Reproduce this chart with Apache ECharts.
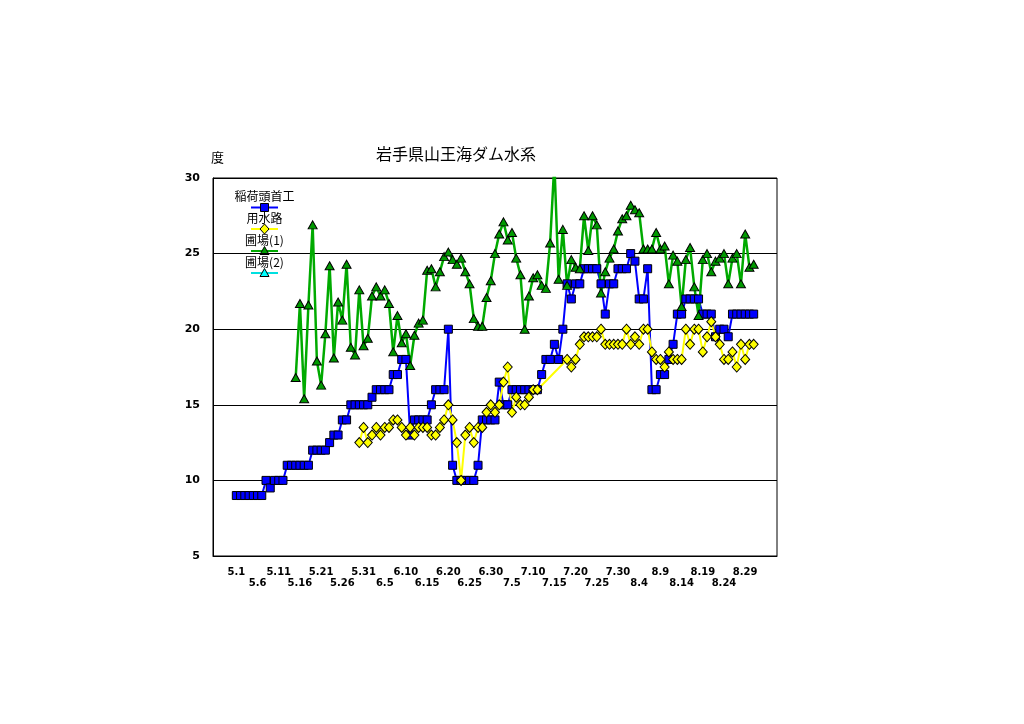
<!DOCTYPE html>
<html><head><meta charset="utf-8">
<script src="https://cdn.jsdelivr.net/npm/echarts@6/dist/echarts.min.js"></script>
<style>html,body{margin:0;padding:0;background:#fff}#c{width:1024px;height:724px}</style>
</head><body><div id="c"></div>
<script>
// date categories of the axis (month, first day, last day)
const monthSpans = [['4',26,30],['5',1,31],['6',1,30],['7',1,31],['8',1,31],['9',1,5]];
const categories = [];
for (const [m,a,b] of monthSpans) for (let d=a; d<=b; d++) categories.push(m + '.' + d);

const tickLabels = ['5.1','5.6','5.11','5.16','5.21','5.26','5.31','6.5','6.10','6.15','6.20','6.25','6.30',
  '7.5','7.10','7.15','7.20','7.25','7.30','8.4','8.9','8.14','8.19','8.24','8.29'];
const yTicks = [5,10,15,20,25,30];

// 稲荷頭首工 : daily from 5.1
const inariStart = '5.1';
const inari = [9,9,9,9,9,9,9,10,9.5,10,10,10,11,11,11,11,11,11,12,12,12,12,12.5,13,13,14,14,
  15,15,15,15,15,15.5,16,16,16,16,17,17,18,18,13,14,14,14,14,15,16,16,16,20,11,10,10,10,10,10,11,
  14,14,14,14,16.5,15,15,16,16,16,16,16,16,16,17,18,18,19,18,20,23,22,23,23,24,24,24,24,23,21,23,23,
  24,24,24,25,24.5,22,22,24,16,16,17,17,18,19,21,21,22,22,22,22,21,21,21,19.5,20,20,19.5,21,21,21,21,21,21];

// 用水路 : daily from 5.30 (no readings 7.12 - 7.17)
const yousuiroStart = '5.30';
const yousuiro = [12.5,13.5,12.5,13,13.5,13,13.5,13.5,14,14,
  13.5,13,13.5,13,13.5,13.5,13.5,13,13,13.5,
  14,15,14,12.5,10,13,13.5,12.5,13.5,13.5,
  14.5,15,14.5,15,16.5,17.5,14.5,15.5,15,15,
  15.5,16,16,null,null,null,null,null,null,18,
  17.5,18,19,19.5,19.5,19.5,19.5,20,19,19,
  19,19,19,20,19,19.5,19,20,20,18.5,
  18,18,17.5,18.5,18,18,18,20,19,20,
  20,18.5,19.5,20.5,19.5,19,18,18,18.5,17.5,
  19,18,19,19];

// 圃場(1) : daily from 5.15
const hojo1Start = '5.15';
const hojo1 = [16.8,21.7,15.4,21.6,26.9,17.9,16.3,19.7,24.2,18.1,
  21.8,20.6,24.3,18.8,18.3,22.6,18.9,19.4,22.2,22.8,
  22.2,22.6,21.7,18.5,20.9,19.1,19.7,17.6,19.6,20.4,
  20.6,23.9,24.0,22.8,23.8,24.8,25.1,24.6,24.3,24.7,
  23.8,23.0,20.7,20.2,20.2,22.1,23.2,25.0,26.3,27.1,
  25.9,26.4,24.7,23.6,20.0,22.2,23.4,23.6,22.9,22.7,
  25.7,31,23.3,26.6,22.9,24.6,24.1,24.0,27.5,25.2,
  27.5,26.9,22.4,23.8,24.7,25.3,26.5,27.3,27.5,28.2,
  27.9,27.7,25.3,25.3,25.3,26.4,25.3,25.5,23.0,24.9,
  24.5,21.5,24.6,25.4,22.8,20.9,24.6,25.0,23.8,24.5,
  24.7,25.0,23.0,24.7,25.0,23.0,26.3,24.1,24.3];

// 圃場(2) : no readings
const hojo2Start = '5.1';
const hojo2 = [];

function align(start, values) {
  const out = categories.map(() => null);
  const i0 = categories.indexOf(start);
  values.forEach((v, i) => { out[i0 + i] = v; });
  return out;
}

const chart = echarts.init(document.getElementById('c'), null, {renderer: 'canvas'});
const lf = '12px "Noto Sans CJK JP"';
const LX = 264.5;
function legendRow(y) { return {type:'line', shape:{x1:251, y1:y, x2:278, y2:y}}; }
const labelBase = {fontSize: 10, fontWeight: 'bold', fontFamily: '"DejaVu Sans"', color: '#000', hideOverlap: false};

chart.setOption({
  animation: false,
  backgroundColor: '#fff',
  title: {
    text: '岩手県山王海ダム水系', left: 376, top: 146, padding: 0,
    textStyle: {fontSize: 16, fontWeight: 'normal', color: '#000', fontFamily: '"Noto Sans CJK JP"'}
  },
  grid: {left: 213, top: 178, width: 564, height: 378, show: true, borderColor: '#000', borderWidth: 1},
  xAxis: [
    {
      type: 'category', data: categories, boundaryGap: true, position: 'bottom',
      axisLine: {lineStyle: {color: '#000', width: 1}},
      axisTick: {show: false},
      axisLabel: Object.assign({
        interval: (i, v) => tickLabels.indexOf(v) % 2 === 0,
        margin: 11
      }, labelBase)
    },
    {
      type: 'category', data: categories, boundaryGap: true, position: 'bottom', offset: 11,
      axisLine: {show: false},
      axisTick: {show: false},
      axisLabel: Object.assign({
        interval: (i, v) => tickLabels.indexOf(v) % 2 === 1,
        margin: 11
      }, labelBase)
    }
  ],
  yAxis: {
    type: 'value', min: yTicks[0], max: yTicks[yTicks.length-1], interval: 5,
    axisLine: {show: true, lineStyle: {color: '#000'}},
    axisTick: {show: false},
    splitLine: {lineStyle: {color: '#000', width: 1}},
    axisLabel: {fontSize: 11, fontWeight: 'bold', fontFamily: '"DejaVu Sans"', color: '#000', margin: 13}
  },
  series: [
    {name: '稲荷頭首工', type: 'line', data: align(inariStart, inari), symbol: 'rect', symbolSize: 8,
     showAllSymbol: true, itemStyle: {color: '#0000FF', borderColor: '#000', borderWidth: 1},
     lineStyle: {color: '#0000FF', width: 2}},
    {name: '用水路', type: 'line', data: align(yousuiroStart, yousuiro), symbol: 'diamond', symbolSize: [9, 10],
     showAllSymbol: true, connectNulls: true, itemStyle: {color: '#FFFF00', borderColor: '#000', borderWidth: 1},
     lineStyle: {color: '#FFFF00', width: 2}},
    {name: '圃場(1)', type: 'line', data: align(hojo1Start, hojo1), symbol: 'triangle', symbolSize: [9, 8],
     showAllSymbol: true, itemStyle: {color: '#009A00', borderColor: '#000', borderWidth: 1},
     lineStyle: {color: '#00AA00', width: 2.5}},
    {name: '圃場(2)', type: 'line', data: align(hojo2Start, hojo2), symbol: 'triangle', symbolSize: [9, 8],
     showAllSymbol: true, itemStyle: {color: '#00FFFF', borderColor: '#000', borderWidth: 1},
     lineStyle: {color: '#00E0E0', width: 2}}
  ],
  graphic: [
    {type: 'text', left: 211, top: 151, style: {text: '度', font: '13px "Noto Sans CJK JP"', fill: '#000'}},
    {type: 'group', children: [
      {type: 'text', x: LX, y: 196, style: {text: '稲荷頭首工', font: lf, fill: '#000', align: 'center', verticalAlign: 'middle'}},
      Object.assign(legendRow(207.5), {style: {stroke: '#0000FF', lineWidth: 2}}),
      {type: 'rect', shape: {x: LX - 4, y: 203.5, width: 8, height: 8}, style: {fill: '#0000FF', stroke: '#000', lineWidth: 1}},
      {type: 'text', x: LX, y: 218, style: {text: '用水路', font: lf, fill: '#000', align: 'center', verticalAlign: 'middle'}},
      Object.assign(legendRow(229), {style: {stroke: '#FFFF00', lineWidth: 2}}),
      {type: 'polygon', shape: {points: [[LX, 224], [LX + 4.5, 229], [LX, 234], [LX - 4.5, 229]]}, style: {fill: '#FFFF00', stroke: '#000', lineWidth: 1}},
      {type: 'text', x: LX, y: 240, style: {text: '圃場(1)', font: lf, fill: '#000', align: 'center', verticalAlign: 'middle'}},
      Object.assign(legendRow(251), {style: {stroke: '#00AA00', lineWidth: 2}}),
      {type: 'polygon', shape: {points: [[LX, 246.5], [LX + 4.5, 254.5], [LX - 4.5, 254.5]]}, style: {fill: '#009A00', stroke: '#000', lineWidth: 1}},
      {type: 'text', x: LX, y: 262, style: {text: '圃場(2)', font: lf, fill: '#000', align: 'center', verticalAlign: 'middle'}},
      Object.assign(legendRow(273), {style: {stroke: '#00E0E0', lineWidth: 2}}),
      {type: 'polygon', shape: {points: [[LX, 268.5], [LX + 4.5, 276.5], [LX - 4.5, 276.5]]}, style: {fill: '#00FFFF', stroke: '#000', lineWidth: 1}}
    ]}
  ]
});
</script>
</body></html>
